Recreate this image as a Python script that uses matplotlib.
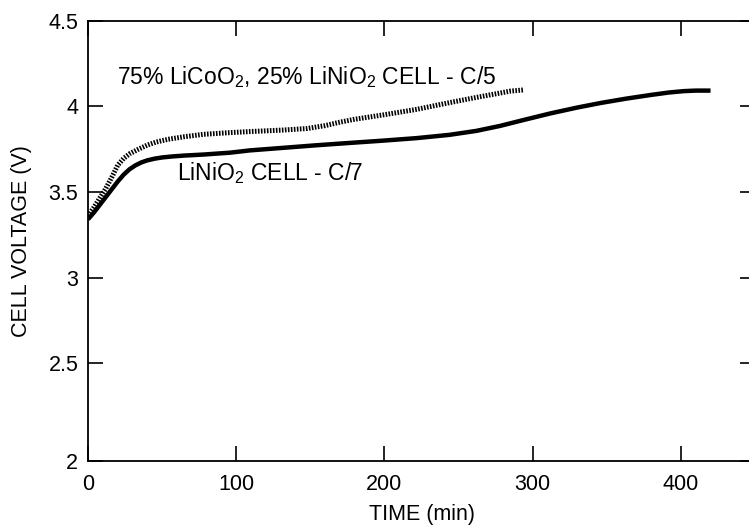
import matplotlib
matplotlib.use("Agg")
import matplotlib.pyplot as plt

plt.rcParams['font.family'] = ['Liberation Sans', 'DejaVu Sans']
plt.rcParams['mathtext.fontset'] = 'custom'
plt.rcParams['mathtext.rm'] = 'Liberation Sans'
plt.rcParams['mathtext.it'] = 'Liberation Sans:italic'
plt.rcParams['mathtext.bf'] = 'Liberation Sans:bold'

# LiNiO2 cell - C/7 (solid)
t_ni = [0, 4, 8, 12, 16, 20, 24, 28, 32, 36, 40, 45, 50, 57, 65, 78, 96, 109,
        130, 154, 177, 199, 222, 244, 262, 278, 295, 312, 330, 346, 363, 380,
        392, 402, 410, 420]
v_ni = [3.34, 3.38, 3.425, 3.47, 3.515, 3.56, 3.60, 3.632, 3.655, 3.672, 3.684,
        3.694, 3.701, 3.707, 3.712, 3.718, 3.729, 3.742, 3.756, 3.772, 3.786,
        3.799, 3.814, 3.833, 3.856, 3.885, 3.922, 3.958, 3.992, 4.019, 4.044,
        4.066, 4.080, 4.088, 4.091, 4.091]

# 75% LiCoO2, 25% LiNiO2 cell - C/5 (hatched)
t_co = [0, 4, 8, 12, 16, 20, 24, 28, 34, 40, 46, 54, 65, 78, 96, 109, 132, 148,
        160, 170, 180, 199, 222, 244, 260, 275, 285, 294]
v_co = [3.36, 3.41, 3.465, 3.52, 3.585, 3.655, 3.695, 3.722, 3.749, 3.773,
        3.791, 3.807, 3.822, 3.836, 3.846, 3.852, 3.861, 3.870, 3.887, 3.907,
        3.924, 3.949, 3.982, 4.021, 4.048, 4.072, 4.088, 4.095]

x_ticks = [0, 100, 200, 300, 400]
y_ticks = [1.93, 2.5, 3, 3.5, 4, 4.5]
y_tick_labels = ['2', '2.5', '3', '3.5', '4', '4.5']

fig = plt.figure(figsize=(7.49, 5.26), dpi=100)
ax = fig.add_axes([88/749, 65/526, 667/749, 440.5/526])

ax.plot(t_ni, v_ni, color='black', lw=3.2, solid_capstyle='butt',
        solid_joinstyle='round')
ax.plot(t_co, v_co, color='black', lw=3.6, linestyle=(0, (0.32, 0.28)),
        dash_capstyle='butt')

ax.set_xlim(0, 450)
ax.set_ylim(1.93, 4.5)
ax.set_xticks(x_ticks)
ax.set_yticks(y_ticks)
ax.set_yticklabels(y_tick_labels)

for s in ax.spines.values():
    s.set_linewidth(1.3)
ax.tick_params(direction='in', length=11, width=1.2, top=True, right=True,
               labelsize=15.5)
ax.tick_params(axis='y', pad=7)
ax.tick_params(axis='x', pad=9)

ax.set_xlabel('TIME (min)', fontsize=15.5, labelpad=7)
ax.set_ylabel('CELL VOLTAGE (V)', fontsize=15.5, labelpad=12)

ax.text(19.5, 4.13, r'75% LiCoO$_\mathregular{2}$, 25% LiNiO$_\mathregular{2}$ CELL - C/5',
        fontsize=16.5, va='baseline', ha='left')
ax.text(60, 3.57, r'LiNiO$_\mathregular{2}$ CELL - C/7',
        fontsize=16.5, va='baseline', ha='left')

fig.savefig('out.png', dpi=100)
